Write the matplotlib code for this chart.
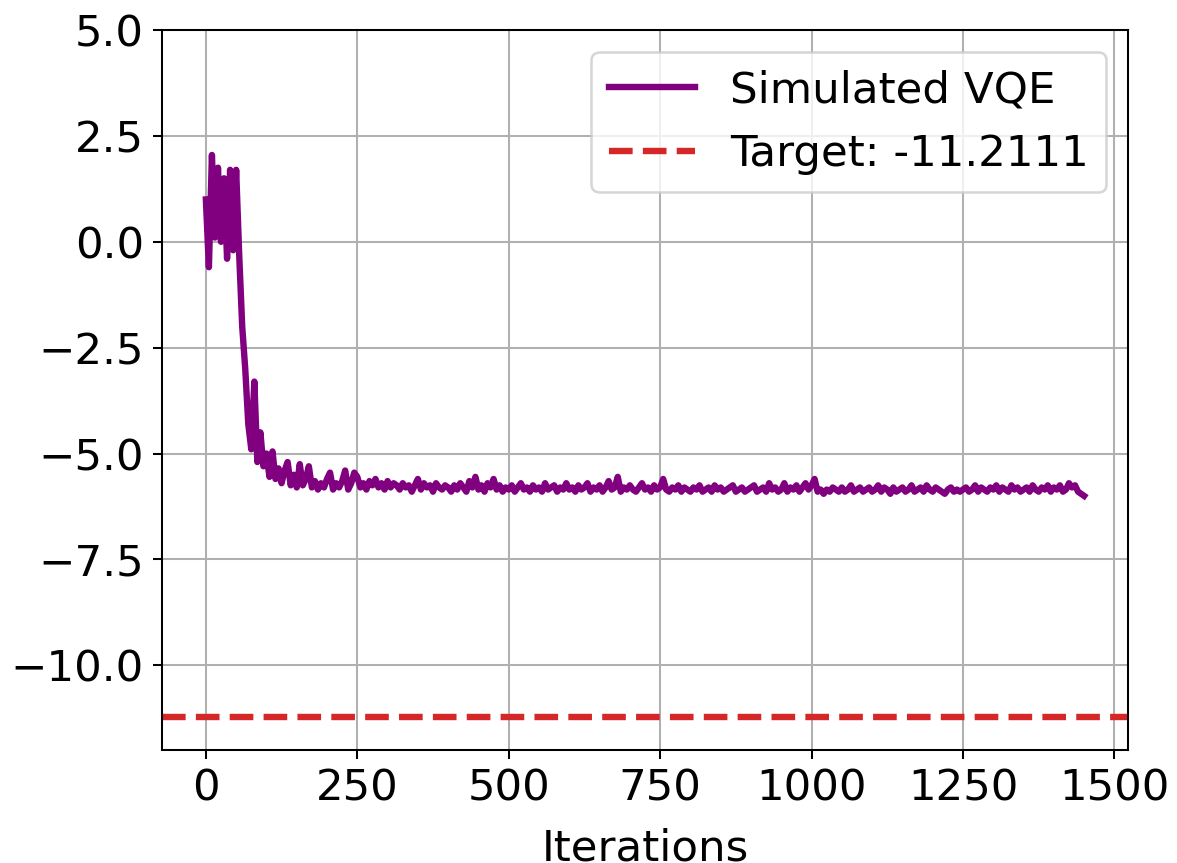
"""
VQE convergence plot: simulated energy per iteration vs. the target energy.
Values are read off the reference figure (sampled every 5 iterations).
"""

import numpy as np
import matplotlib
matplotlib.use("Agg")
import matplotlib.pyplot as plt

# -------------------------------------------------------------------
# Data
# -------------------------------------------------------------------
STEP = 5
TARGET = -11.2111

energy_start = [
    1.0, -0.6, 2.05, 0.1, 1.75, 0.0, 1.5, -0.4, 1.7, -0.2,
    1.7, -0.3, -2.0, -3.0, -4.3, -4.9, -3.3, -5.2, -4.5, -5.3,
    -5.0, -5.55, -4.95, -5.6, -5.35, -5.7, -5.4, -5.2, -5.75, -5.5,
    -5.8, -5.25, -5.75, -5.6, -5.3, -5.8, -5.65, -5.85, -5.7, -5.8,
    -5.6, -5.45, -5.85, -5.7, -5.8, -5.65, -5.4, -5.85, -5.7, -5.45,
]

energy_plateau = [
    -5.55, -5.8, -5.7, -5.85, -5.65, -5.75, -5.6, -5.8, -5.7, -5.85,
    -5.65, -5.8, -5.7, -5.75, -5.85, -5.7, -5.8, -5.75, -5.9, -5.75,
    -5.6, -5.85, -5.7, -5.8, -5.75, -5.9, -5.7, -5.8, -5.85, -5.75,
    -5.8, -5.9, -5.75, -5.85, -5.7, -5.8, -5.9, -5.65, -5.8, -5.55,
    -5.85, -5.75, -5.9, -5.7, -5.8, -5.6, -5.85, -5.75, -5.9, -5.8,
    -5.85, -5.75, -5.9, -5.8, -5.7, -5.85, -5.8, -5.9, -5.75, -5.85,
    -5.8, -5.9, -5.7, -5.85, -5.8, -5.75, -5.9, -5.8, -5.85, -5.7,
    -5.85, -5.8, -5.9, -5.75, -5.85, -5.8, -5.7, -5.9, -5.8, -5.85,
    -5.75, -5.9, -5.8, -5.65, -5.85, -5.8, -5.55, -5.9, -5.8, -5.85,
    -5.75, -5.85, -5.9, -5.8, -5.7, -5.85, -5.8, -5.9, -5.75, -5.85,
    -5.8, -5.6, -5.85, -5.9, -5.8, -5.85, -5.75, -5.9, -5.8, -5.85,
    -5.9, -5.8, -5.85, -5.75, -5.9, -5.85, -5.8, -5.9, -5.75, -5.85,
    -5.8, -5.9, -5.85, -5.8, -5.75, -5.9, -5.85, -5.8, -5.9, -5.85,
    -5.8, -5.75, -5.9, -5.85, -5.8, -5.9, -5.7, -5.85, -5.8, -5.9,
    -5.85, -5.7, -5.9, -5.8, -5.85, -5.75, -5.9, -5.8, -5.7, -5.85,
    -5.75, -5.6, -5.9, -5.85, -5.95, -5.85, -5.9, -5.8, -5.85, -5.9,
    -5.8, -5.9, -5.85, -5.75, -5.9, -5.85, -5.8, -5.9, -5.85, -5.8,
    -5.9, -5.85, -5.75, -5.9, -5.8, -5.85, -5.95, -5.8, -5.9, -5.85,
    -5.8, -5.9, -5.85, -5.75, -5.9, -5.85, -5.8, -5.9, -5.75, -5.85,
    -5.9, -5.8, -5.85, -5.9, -5.95, -5.85, -5.8, -5.9, -5.85, -5.9,
    -5.85, -5.8, -5.9, -5.85, -5.75, -5.9, -5.8, -5.85, -5.9, -5.8,
    -5.85, -5.75, -5.9, -5.8, -5.85, -5.9, -5.75, -5.85, -5.8, -5.9,
    -5.85, -5.8, -5.9, -5.75, -5.85, -5.9, -5.8, -5.85, -5.75, -5.9,
    -5.8, -5.85, -5.75, -5.9, -5.85, -5.7, -5.8, -5.75, -5.9, -5.95,
    -6.0,
]

energies = energy_start + energy_plateau
iterations = np.arange(len(energies)) * STEP


# -------------------------------------------------------------------
# Plot
# -------------------------------------------------------------------
def main() -> None:
    plt.rcParams["font.size"] = 17

    dpi = 184
    fig = plt.figure(figsize=(1177 / dpi, 863 / dpi), dpi=dpi)
    ax = fig.add_axes([0.1376, 0.1309, 0.8208, 0.8343])

    ax.plot(iterations, energies, color="purple", linewidth=2.5, label="Simulated VQE")
    ax.axhline(TARGET, color="#d62728", linestyle="--", linewidth=2.5,
               label=f"Target: {TARGET:.4f}")

    ax.set_ylim(-12, 5)
    ax.set_xlabel("Iterations", labelpad=7)
    ax.grid(True)
    ax.legend(loc="upper right")

    fig.savefig("out.png", dpi=dpi)
    plt.close(fig)


if __name__ == "__main__":
    main()
